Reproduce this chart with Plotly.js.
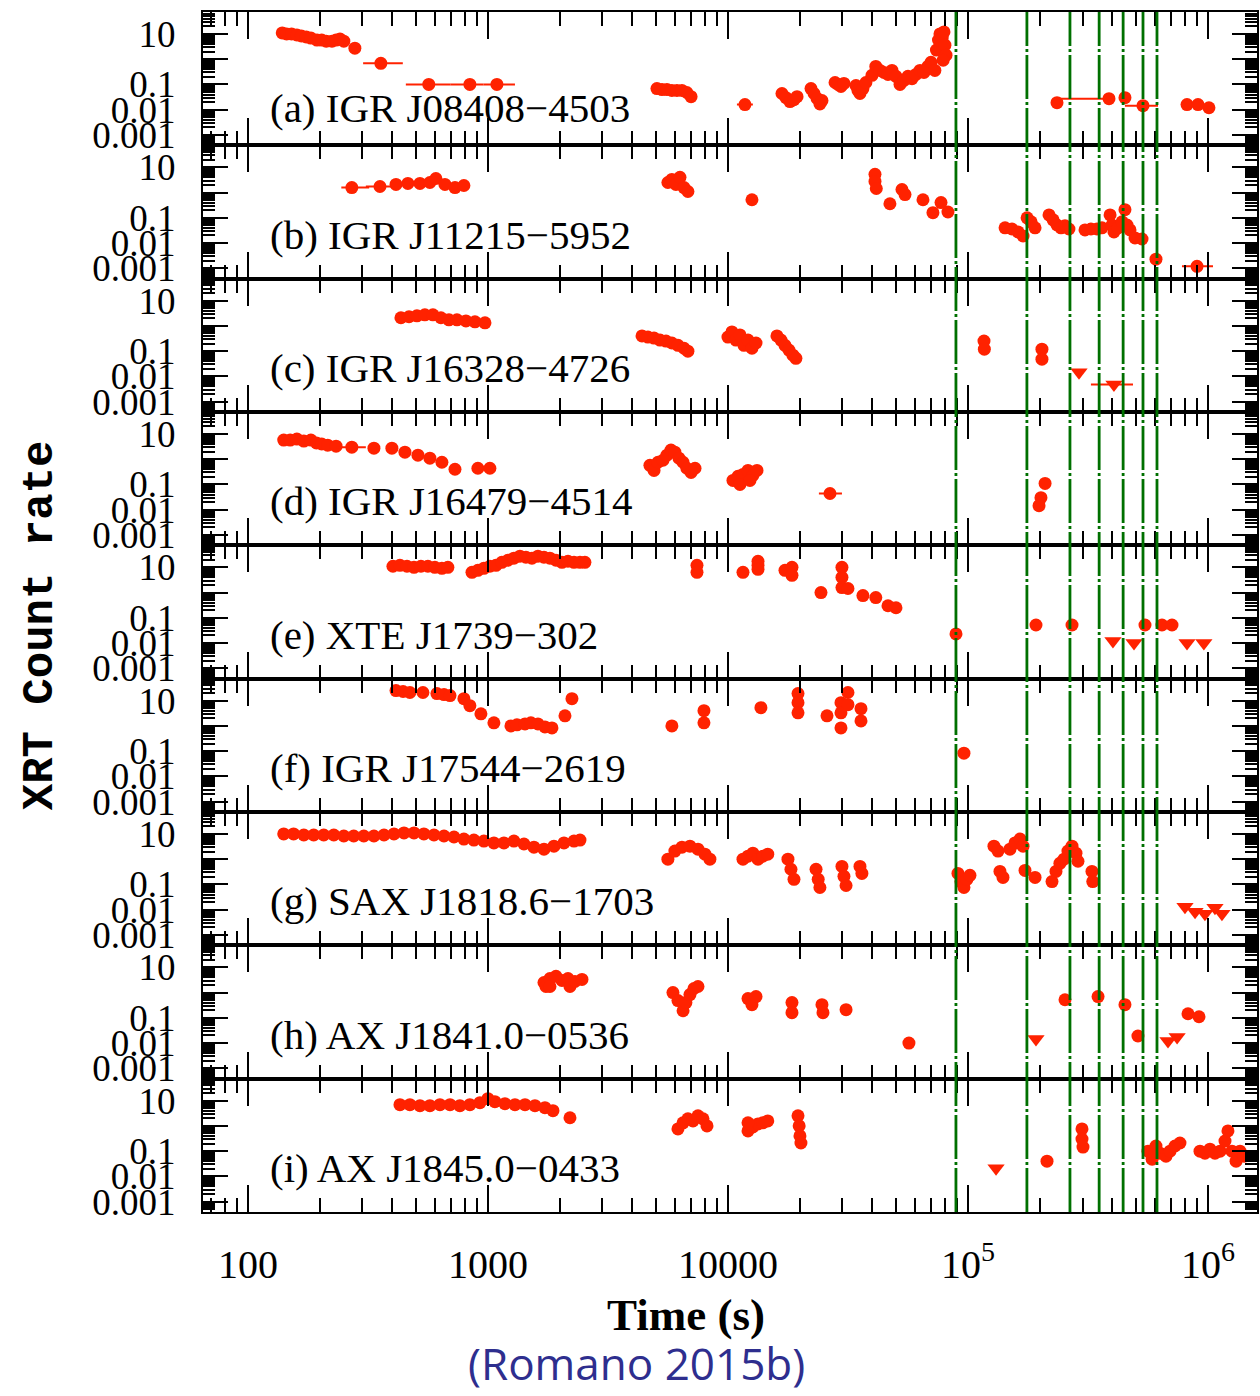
<!DOCTYPE html>
<html>
<head>
<meta charset="utf-8">
<script src="https://cdn.plot.ly/plotly-3.0.1.min.js"></script>
<style>html,body{margin:0;padding:0;background:#fff;}#chart{width:1260px;height:1396px;}</style>
</head>
<body>
<div id="chart"></div>
<script>
// ---------- labels ----------
const panelLabels = ["(a) IGR J08408\u22124503","(b) IGR J11215\u22125952","(c) IGR J16328\u22124726",
  "(d) IGR J16479\u22124514","(e) XTE J1739\u2212302","(f) IGR J17544\u22122619",
  "(g) SAX J1818.6\u22121703","(h) AX J1841.0\u22120536","(i) AX J1845.0\u22120433"];
const xTickVals = [100, 1000, 10000, 1e5, 1e6];
const xTickText = ["100", "1000", "10000", "10<sup>5</sup>", "10<sup>6</sup>"];
const yTickVals = [0.001, 0.01, 0.1, 1, 10];
const yTickText = ["0.001", "0.01", "0.1", "", "10"];
// green dash-dot reference times (s)
const orbitLines = [89100, 176000, 266000, 352000, 443000, 536000, 613000];

// ---------- (a) IGR J08408-4503 ----------
const tA = [139,145,152,160,167,175,183,194,203,212,224,233,242,251,
  5060,5310,5570,5840,6130,6430,6740,7020,
  16790,17450,18130,18840,19400, 22180,22840,23500,24160,24640,
  27940,28740,29570,30430, 34150,34810,35480,36500,37560,
  39810,41300,42990,44670,46420,48240,50120,52100,54120,56230,58440,60720,63100,65560,68130,70150,72780,73900,75360,76440,78100,79430,80150,81000,78800,
  234900,450800,817600,908500,1009000];
const rA = [11,10,10,9.1,8.3,7.6,6.9,5.75,5.75,5.2,5.2,5.75,6.3,5.2,
  0.069,0.063,0.063,0.058,0.058,0.058,0.048,0.033,
  0.044,0.030,0.021,0.025,0.033, 0.069,0.044,0.028,0.017,0.023,
  0.12,0.1,0.083,0.11, 0.091,0.058,0.044,0.069,0.12,
  0.23,0.52,0.36,0.30,0.25,0.36,0.21,0.1,0.145,0.21,0.17,0.25,0.36,0.30,0.52,0.76,0.36,2.3,5.75,10,6.9,12,3.6,1.45,0.91,
  0.019,0.030,0.016,0.016,0.012];
const etA = [279,358,567,841,1090,11770,386800,535900];
const erA = [2.75,0.69,0.1,0.1,0.1,0.016,0.0275,0.0145];
const eloA = [265,302,455,700,960,10900,234900,450800];
const ehiA = [295,442,700,960,1296,12700,386800,619000];
const utA = [], urA = [];

// ---------- (b) IGR J11215-5952 ----------
const tB = [414,464,521,573,607,662,729,794,
  5620,5840,6070,6310,6560,6810, 12590,
  40980,40980,41500,47290,53090,54650,64940,71450,77200,82530,
  142700,152500,161600,169600,176300,183200,190300,
  217600,226200,234900,244100,253600,263400,
  307300,325300,344700,361400,
  390800,398100,405600,421700,438500,450800,459700,473200,
  496500,531000,607000];
const rB = [2.1,2.3,2.3,2.5,3.6,2.1,1.58,1.9,
  2.5,3.3,2.1,4.0,1.58,1.1, 0.52,
  5.25,2.75,1.45,0.36,1.32,0.83,0.52,0.16,0.4,0.17,
  0.04,0.036,0.0275,0.019,0.1,0.069,0.04,
  0.13,0.083,0.052,0.04,0.048,0.036,
  0.033,0.036,0.036,0.04,
  0.13,0.052,0.0275,0.04,0.069,0.21,0.052,0.033,
  0.016,0.0145,0.0023];
const etB = [271,355,900000];
const erB = [1.58,1.74,0.0012];
const eloB = [245,310,779000];
const ehiB = [320,395,1049000];
const utB = [], urB = [];

// ---------- (c) IGR J16328-4726 ----------
const tC = [434,469,506,546,590,637,688,743,810,883,972,
  4385,4640,4920,5210,5520,5840,6190,6560,6810,
  10000,10390,10800,11220,11660,12120,12590,13090,
  16000,16630,17280,17950,18650,19190,
  116600,117000,203300,203300];
const rC = [2.1,2.3,2.5,2.75,2.75,2.1,1.74,1.74,1.58,1.45,1.32,
  0.4,0.36,0.33,0.275,0.25,0.21,0.17,0.13,0.1,
  0.36,0.575,0.275,0.44,0.17,0.275,0.13,0.21,
  0.4,0.275,0.17,0.11,0.069,0.052,
  0.25,0.12,0.12,0.048];
const etC = [], erC = [], eloC = [], ehiC = [];
const utC = [290100, 405600];
const urC = [0.0145, 0.0048];
const uloC = [290100, 325300];
const uhiC = [290100, 487000];

// ---------- (d) IGR J16479-4514 ----------
const tD = [141,150,160,171,183,193,203,215,233,335,398,451,511,573,643,729,908,1019,
  4730,4920,5110,5360,5570,5790,6010,6250,6500,6740,7020,7290,
  10490,11010,11550,12120,12700,13210,11220,12350,
  209500,201400,197700];
const rD = [5.75,5.75,6.3,5.25,5.75,4.4,4.0,3.6,3.3,2.75,2.75,1.9,1.45,1.1,0.76,0.4,0.44,0.44,
  0.575,0.36,0.76,0.91,1.45,2.3,1.9,1.1,0.76,0.44,0.3,0.44,
  0.145,0.21,0.25,0.36,0.23,0.36,0.1,0.145,
  0.11,0.03,0.0145];
const etD = [271, 26610], erD = [3.0, 0.044], eloD = [233, 23930], ehiD = [310, 29850];
const utD = [], urD = [];

// ---------- (e) XTE J1739-302 ----------
const tE = [402,430,460,492,526,562,601,643,681,
  858,908,962,1019,1080,1143,1211,1283,1359,1440,1525,1616,1712,1813,1921,2034,2155,2283,2418,2535,
  7430,7430,11550,13340,13340,13340,17280,18480,18480,24410,29850,29850,29850,31620,36500,41300,46420,50120,
  89130,192000,271300,546300,643000,707900];
const rE = [11,12,11,10,11,11,10,9.1,10,
  6.3,7.6,9.1,11,12,15.8,19,23,27.5,25,23,27.5,25,23,19,15.8,17.4,15.8,15.8,15.8,
  12,6.3,6.3,17.4,12,8.3,7.6,10,4.8,1.0,10,4.0,1.58,1.45,0.76,0.63,0.3,0.25,
  0.023,0.052,0.052,0.052,0.052,0.052];
const etE = [], erE = [], eloE = [], ehiE = [];
const utE = [401800, 491700, 817600, 961000];
const urE = [0.012, 0.01, 0.01, 0.01];

// ---------- (f) IGR J17544-2619 ----------
const tF = [414,443,473,536,613,656,695,794,841,935,1059,1247,1321,1427,1510,1616,1728,1848,2094,2239,
  5840,7943,7943,13720,19580,19580,19580,25860,29570,29570,29570,31620,31620,35830,35830,96200];
const rF = [25,23,21,21,19,17.4,15.8,12,6.3,3.0,1.32,1.0,1.1,1.2,1.32,1.2,0.91,0.83,2.5,12,
  1.0,4.0,1.32,5.25,19,8.3,3.3,2.5,8.3,3.3,0.83,21,6.9,4.8,1.58,0.083];
const etF = [], erF = [], eloF = [], ehiF = [];
const utF = [], urF = [];

// ---------- (g) SAX J1818.6-1703 ----------
const tG = [141,155,171,188,207,228,251,276,304,335,369,406,447,492,541,596,656,722,794,874,962,1059,1166,1283,1413,1555,1712,1884,2074,2283,2418,
  5620,6010,6430,6945,7500,8020,8410,
  11550,12120,12700,13340,13960,14650,
  17780,18300,18840,23280,23770,24160,29850,30430,31050,35480,36140,
  90830,93500,96200,99000,101900,128300,133400,135900,139900,149600,157000,164800,169600,172800,190300,
  223900,232600,241500,251200,260900,271300,281800,287300,328500,331000];
const rG = [10,10,9.1,9.1,9.1,9.1,8.3,8.3,8.3,8.3,9.1,10,11,11,10,9.1,8.3,7.6,6.3,5.75,5.25,4.4,4.4,5.25,4.0,3.0,2.5,3.3,4.4,5.25,5.75,
  1.0,2.1,3.0,3.3,2.5,1.58,1.0,
  1.0,1.32,1.74,1.0,1.32,1.58,
  1.0,0.4,0.16,0.4,0.16,0.076,0.52,0.21,0.091,0.52,0.275,
  0.275,0.13,0.076,0.16,0.23,3.3,2.1,0.33,0.19,2.5,4.4,6.3,3.3,0.36,0.19,
  0.13,0.33,0.69,1.0,2.1,3.3,1.74,0.83,0.33,0.13];
const etG = [], erG = [], eloG = [], ehiG = [];
const utG = [801800, 883100, 971000, 1069000, 1143000];
const urG = [0.0132, 0.0083, 0.0069, 0.012, 0.0069];

// ---------- (h) AX J1841.0-0536 ----------
const tH = [1712,1745,1813,1813,1921,2034,2155,2197,2304,2465,
  5900,6190,6500,6680,6945,7220,7500,
  12120,12590,13090,18480,18480,24640,24880,31050,56750,
  253600,348300,450800,510500,825400,917400];
const rH = [2.5,1.74,3.6,1.74,4.4,3.0,3.6,1.74,2.75,3.3,
  1.0,0.48,0.19,0.4,0.83,1.45,1.74,
  0.575,0.33,0.69,0.4,0.16,0.33,0.16,0.21,0.01,
  0.52,0.69,0.33,0.019,0.145,0.11];
const etH = [], erH = [], eloH = [], ehiH = [];
const utH = [192000, 681300, 743400];
const urH = [0.0145, 0.012, 0.0174];

// ---------- (i) AX J1845.0-0433 ----------
const tI = [430,473,521,573,631,695,764,841,926,1000,1069,1177,1296,1427,1570,1728,1866,2197,
  6190,6500,6810,7150,7500,7870,8180,
  12120,12700,13340,13960,14650,12120,
  19580,19800,19950,20140,
  213400,298500,298500,301400,
  562300,585000,607000,631000,668300,694700,728600,764000,
  926000,971000,1019000,1069000,1122000,1177000,1211000,1259000,1309000,1359000,1413000];
const rI = [6.9,6.9,6.3,6.3,6.9,6.9,6.3,6.9,8.3,12,9.1,7.6,6.9,6.9,6.3,5.25,4.0,2.1,
  0.76,1.32,1.9,1.58,2.5,1.9,1.0,
  0.63,0.91,1.2,1.32,1.58,1.32,
  2.5,1.0,0.4,0.21,
  0.04,0.76,0.3,0.145,
  0.1,0.048,0.16,0.083,0.063,0.1,0.16,0.21,
  0.1,0.083,0.12,0.083,0.1,0.25,0.63,0.1,0.04,0.1,0.063];
const etI = [], erI = [], eloI = [], ehiI = [];
const utI = [130900], urI = [0.021];

// ---------- build ----------
const RED = "rgb(255,34,0)";
const panels = [
  [tA,rA,etA,erA,eloA,ehiA,utA,urA,null,null],
  [tB,rB,etB,erB,eloB,ehiB,utB,urB,null,null],
  [tC,rC,etC,erC,eloC,ehiC,utC,urC,uloC,uhiC],
  [tD,rD,etD,erD,eloD,ehiD,utD,urD,null,null],
  [tE,rE,etE,erE,eloE,ehiE,utE,urE,null,null],
  [tF,rF,etF,erF,eloF,ehiF,utF,urF,null,null],
  [tG,rG,etG,erG,eloG,ehiG,utG,urG,null,null],
  [tH,rH,etH,erH,eloH,ehiH,utH,urH,null,null],
  [tI,rI,etI,erI,eloI,ehiI,utI,urI,null,null]
];
const N = panels.length;
const traces = [];
const layout = {
  width: 1260, height: 1396,
  margin: {l: 203, r: 3, t: 12, b: 184},
  paper_bgcolor: "#fff", plot_bgcolor: "#fff",
  showlegend: false,
  shapes: [], annotations: []
};
const xMinor = [], yMinor = [];
for (let d = 1; d <= 6; d++) for (let m = 2; m <= 9; m++) xMinor.push(m * Math.pow(10, d));
for (let d = -4; d <= 1; d++) for (let m = 2; m <= 9; m++) yMinor.push(m * Math.pow(10, d));

panels.forEach((p, k) => {
  const xn = k === 0 ? "x" : "x" + (k + 1);
  const yn = k === 0 ? "y" : "y" + (k + 1);
  const [t, r, et, er, elo, ehi, ut, ur, ulo, uhi] = p;
  traces.push({type: "scatter", mode: "markers", x: t, y: r, xaxis: xn, yaxis: yn,
    marker: {color: RED, size: 13, symbol: "circle", line: {width: 0}}, hoverinfo: "x+y"});
  if (et.length) traces.push({type: "scatter", mode: "markers", x: et, y: er, xaxis: xn, yaxis: yn,
    marker: {color: RED, size: 13, symbol: "circle"},
    error_x: {type: "data", symmetric: false, array: et.map((v, i) => ehi[i] - v),
      arrayminus: et.map((v, i) => v - elo[i]), color: RED, thickness: 2, width: 0}});
  if (ut.length) {
    const tr = {type: "scatter", mode: "markers", x: ut, y: ur, xaxis: xn, yaxis: yn,
      marker: {color: RED, size: 15, symbol: "triangle-down"}};
    if (ulo) tr.error_x = {type: "data", symmetric: false, array: ut.map((v, i) => uhi[i] - v),
      arrayminus: ut.map((v, i) => v - ulo[i]), color: RED, thickness: 2, width: 0};
    traces.push(tr);
  }
  const xa = {
    type: "log", range: [Math.log10(65), Math.log10(1.6e6)], anchor: yn,
    tickmode: "array", tickvals: xTickVals, ticktext: xTickText,
    ticks: "inside", ticklen: 27, tickwidth: 2, tickcolor: "#000",
    showline: true, linewidth: 2, linecolor: "#000", mirror: "allticks",
    showgrid: false, zeroline: false, showticklabels: k === N - 1,
    ticklabelstandoff: 16,
    tickfont: {family: "Liberation Serif, serif", size: 40, color: "#000"},
    minor: {tickmode: "array", tickvals: xMinor, ticks: "inside", ticklen: 14, tickwidth: 2, tickcolor: "#000", showgrid: false}
  };
  if (k > 0) xa.matches = "x";
  const ya = {
    type: "log", range: [-3.41, 1.87], anchor: xn,
    domain: [1 - (k + 1) / N, 1 - k / N],
    tickmode: "array", tickvals: yTickVals, ticktext: yTickText,
    ticks: "inside", ticklen: 25, tickwidth: 2, tickcolor: "#000",
    showline: true, linewidth: 2, linecolor: "#000", mirror: "allticks",
    showgrid: false, zeroline: false, ticklabelstandoff: 18,
    tickfont: {family: "Liberation Serif, serif", size: 37, color: "#000"},
    minor: {tickmode: "array", tickvals: yMinor, ticks: "inside", ticklen: 12, tickwidth: 2, tickcolor: "#000", showgrid: false}
  };
  layout[k === 0 ? "xaxis" : "xaxis" + (k + 1)] = xa;
  layout[k === 0 ? "yaxis" : "yaxis" + (k + 1)] = ya;
  layout.annotations.push({
    text: panelLabels[k], xref: "paper", yref: yn + " domain",
    x: 0.0617, y: k === 0 ? 0.28 : 0.33, xanchor: "left", yanchor: "middle", showarrow: false,
    font: {family: "Liberation Serif, serif", size: 41, color: "#000"}
  });
});

orbitLines.forEach(t => layout.shapes.push({
  type: "line", xref: "x", yref: "paper", x0: t, x1: t, y0: 0, y1: 1,
  line: {color: "#007000", width: 2.8, dash: "44px,3px,3px,3px"}, layer: "above"
}));

layout.annotations.push({
  text: "<b>XRT Count rate</b>", xref: "paper", yref: "paper", x: -0.1546, y: 0.489,
  xanchor: "center", yanchor: "middle", textangle: -90, showarrow: false,
  font: {family: "Liberation Mono, monospace", size: 44, color: "#000"}
});
layout.annotations.push({
  text: "<b>Time (s)</b>", xref: "paper", yref: "paper", x: 0.458, y: -0.0858,
  xanchor: "center", yanchor: "middle", showarrow: false,
  font: {family: "Liberation Serif, serif", size: 45, color: "#000"}
});
layout.annotations.push({
  text: "(Romano 2015b)", xref: "paper", yref: "paper", x: 0.411, y: -0.126,
  xanchor: "center", yanchor: "middle", showarrow: false,
  font: {family: "Open Sans, sans-serif", size: 44, color: "#2e2e8e"}
});

Plotly.newPlot("chart", traces, layout, {displayModeBar: false, staticPlot: true});
</script>
</body>
</html>
